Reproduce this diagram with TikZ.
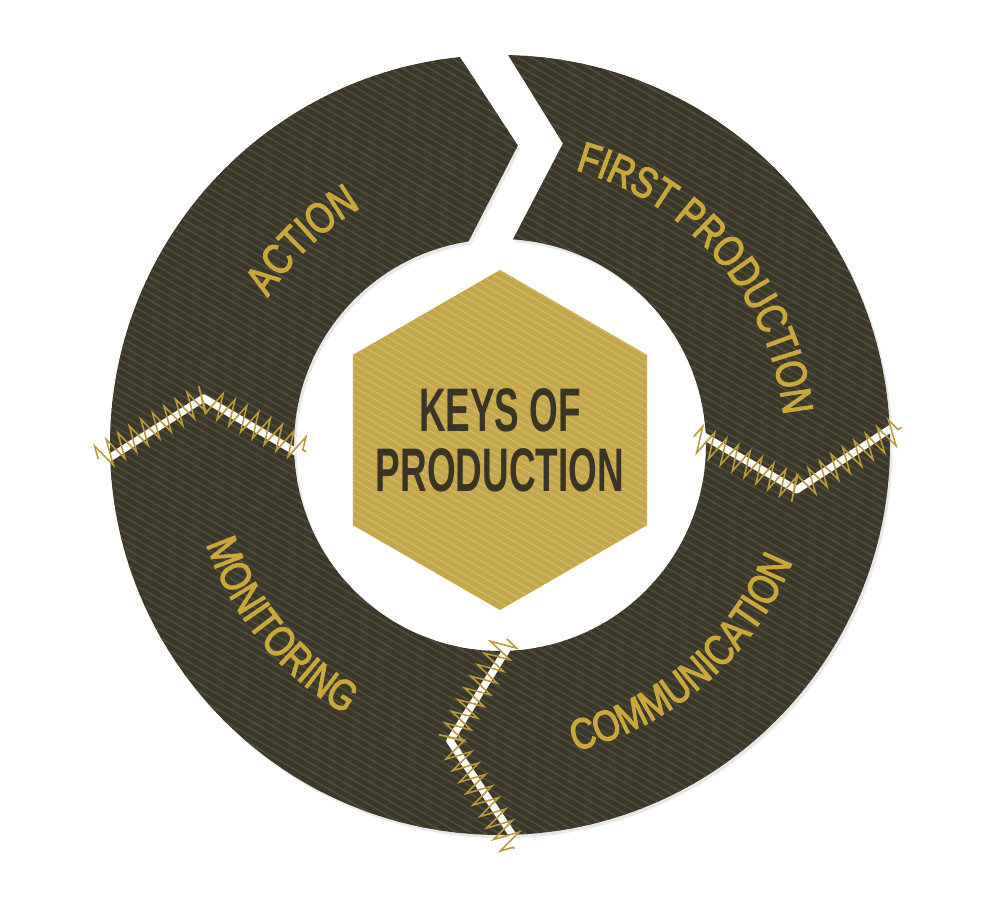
\documentclass[tikz,border=0pt]{standalone}
\usepackage{fontspec}
\usepackage{tikz}
\usetikzlibrary{decorations.text,decorations.pathmorphing,patterns.meta,shadows}
\newfontfamily\ringfont[FakeStretch=0.8,FakeBold=2.5]{Liberation Sans}
\newfontfamily\hexfont[FakeStretch=0.6]{Liberation Sans}
\definecolor{ringdark}{HTML}{3B3829}
\definecolor{ringgrain}{HTML}{4E4B3B}
\definecolor{hexgold}{HTML}{C4A74A}
\definecolor{hexgrain}{HTML}{CFB565}
\definecolor{labelgold}{HTML}{C9A73A}
\definecolor{hexink}{HTML}{3A3426}
\definecolor{thread}{HTML}{B99B3B}
\tikzset{
  ringpiece/.style={fill=ringdark,
    drop shadow={shadow xshift=0.7pt, shadow yshift=-0.9pt, opacity=0.18},
    postaction={pattern={Lines[angle=-30,distance=1.9pt,line width=0.5pt]}, pattern color=ringgrain}},
  hexpiece/.style={fill=hexgold,
    postaction={pattern={Lines[angle=-30,distance=1.9pt,line width=0.4pt]}, pattern color=hexgrain}},
  seamline/.style={draw=white, line width=2.1pt, line join=round},
  stitch/.style={draw=thread, line width=0.45pt, decorate,
    decoration={zigzag, segment length=3.8pt, amplitude=3.7pt}},
  hexlabel/.style={text=hexink, align=center, inner sep=0pt,
    font=\hexfont\bfseries\fontsize{17.5}{17.1}\selectfont},
  arclabel/.style={decorate, decoration={text along path, text align=center,
    text color=labelgold, text={|\ringfont\fontsize{12.3}{14}\selectfont|#1}}},
}
\begin{document}
\begin{tikzpicture}[x=0.1mm, y=0.1mm]
  \useasboundingbox (-500,-455) rectangle (500,445);

  % dark ring, cut open at the top
  \path[ringpiece] (88.8:390) arc[start angle=88.8, end angle=-264.1, radius=390]
    -- (86.6:300) -- (98.8:206) arc[start angle=98.8, end angle=446.4, radius=206]
    -- (78.2:308) -- cycle;

  % seams
  \coordinate (lefto) at (182:392);
  \coordinate (leftk) at (171:300);
  \coordinate (lefti) at (182:204);
  \coordinate (leftoo) at (182:402);
  \coordinate (leftii) at (182:194);
  \draw[seamline] (lefto) -- (leftk) -- (lefti);
  \draw[stitch] (leftoo) -- (leftk) -- (leftii);

  \coordinate (righto) at (2.5:392);
  \coordinate (rightk) at (-8.6:300);
  \coordinate (righti) at (2.5:204);
  \coordinate (rightoo) at (2.5:402);
  \coordinate (rightii) at (2.5:194);
  \draw[seamline] (righti) -- (rightk) -- (righto);
  \draw[stitch] (rightii) -- (rightk) -- (rightoo);

  \coordinate (lowo) at (-88:392);
  \coordinate (lowk) at (-99.6:300);
  \coordinate (lowi) at (-88:204);
  \coordinate (lowoo) at (-88:404);
  \coordinate (lowii) at (-88:194);
  \draw[seamline] (lowi) -- (lowk) -- (lowo);
  \draw[stitch] (lowii) -- (lowk) -- (lowoo);

  % ring labels
  \path[arclabel=ACTION] (175:275) arc[start angle=175, end angle=93, radius=275];
  \path[arclabel=FIRST PRODUCTION] (80.3:285) arc[start angle=80.3, end angle=0.3, radius=285];
  \path[arclabel=COMMUNICATION] (-95:315) arc[start angle=-95, end angle=-3, radius=315];
  \path[arclabel=MONITORING] (179.4:310) arc[start angle=179.4, end angle=259.4, radius=310];

  % centre hexagon
  \path[hexpiece, shift={(0,5)}] (90:170) -- (150:170) -- (210:170) -- (270:170)
    -- (330:170) -- (30:170) -- cycle;
  \node[hexlabel] (keys) at (0,5) {KEYS OF\\PRODUCTION};
\end{tikzpicture}
\end{document}
